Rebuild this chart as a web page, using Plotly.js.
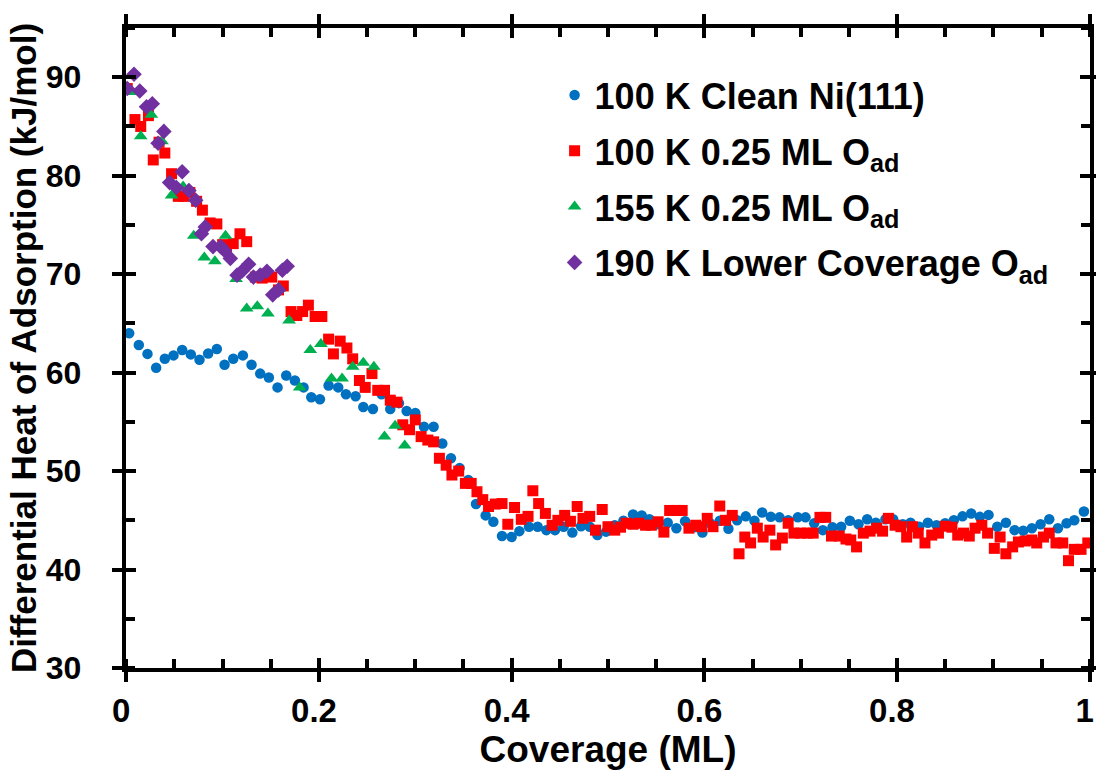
<!DOCTYPE html>
<html>
<head>
<meta charset="utf-8">
<script src="https://cdn.plot.ly/plotly-3.0.1.min.js"></script>
<style>html,body{margin:0;padding:0;background:#fff;}#chart{width:1096px;height:778px;}</style>
</head>
<body>
<div id="chart"></div>
<script>
// 100 K Clean Ni(111)
const cleanX = [0.003,0.013,0.022,0.031,0.040,0.049,0.058,0.067,0.076,0.085,0.094,0.102,0.111,0.121,0.130,0.139,0.148,0.157,0.166,0.175,0.184,0.192,0.201,0.210,0.220,0.228,0.238,0.246,0.256,0.265,0.274,0.283,0.291,0.300,0.309,0.319,0.328,0.337,0.346,0.355,0.363,0.373,0.381,0.390,0.400,0.408,0.418,0.427,0.436,0.445,0.454,0.463,0.472,0.481,0.489,0.498,0.507,0.516,0.526,0.535,0.543,0.552,0.562,0.571,0.580,0.589,0.598,0.606,0.616,0.625,0.634,0.643,0.652,0.660,0.669,0.678,0.687,0.697,0.705,0.714,0.723,0.733,0.742,0.751,0.760,0.769,0.778,0.788,0.796,0.806,0.814,0.823,0.832,0.841,0.850,0.859,0.868,0.877,0.886,0.895,0.904,0.913,0.922,0.931,0.940,0.949,0.958,0.967,0.976,0.984,0.994];
const cleanY = [64.0,62.8,61.9,60.5,61.4,61.75,62.3,61.85,61.3,61.95,62.4,60.8,61.4,61.75,60.8,59.9,59.5,58.5,59.7,59.2,58.5,57.5,57.3,58.7,58.5,57.8,57.6,56.5,56.3,57.8,56.3,56.9,56.1,55.9,54.5,54.5,52.8,51.3,50.3,49.1,46.65,45.5,44.85,43.4,43.3,43.9,44.35,44.35,44.0,44.0,44.35,43.75,44.4,44.35,43.5,43.85,44.5,44.95,45.6,45.5,45.1,44.6,44.75,44.2,44.9,44.3,43.75,44.7,44.95,44.15,45.0,45.4,44.95,45.8,45.35,45.3,45.0,45.3,45.3,44.7,44.0,44.3,44.35,44.95,44.6,45.1,44.75,45.1,45.1,44.6,44.75,44.35,44.75,44.5,44.7,45.0,45.4,45.7,45.35,45.55,44.35,44.75,44.0,43.95,44.2,44.6,45.1,44.2,44.7,45.0,45.9];

// 100 K 0.25 ML O_ad
const o100X = [0.001,0.009,0.015,0.023,0.028,0.034,0.040,0.047,0.054,0.060,0.066,0.073,0.079,0.087,0.094,0.100,0.104,0.111,0.118,0.125,0.134,0.141,0.145,0.151,0.158,0.163,0.171,0.177,0.183,0.189,0.196,0.203,0.210,0.215,0.222,0.229,0.235,0.242,0.248,0.255,0.261,0.268,0.274,0.281,0.287,0.294,0.300,0.306,0.313,0.319,0.325,0.332,0.338,0.345,0.352,0.358,0.364,0.370,0.376,0.383,0.390,0.396,0.403,0.410,0.417,0.422,0.428,0.435,0.442,0.448,0.455,0.461,0.468,0.474,0.481,0.487,0.494,0.500,0.507,0.513,0.519,0.526,0.532,0.539,0.545,0.552,0.558,0.564,0.571,0.577,0.584,0.591,0.597,0.603,0.609,0.616,0.622,0.629,0.636,0.642,0.648,0.655,0.661,0.668,0.674,0.681,0.687,0.693,0.700,0.707,0.713,0.720,0.726,0.732,0.740,0.747,0.752,0.758,0.765,0.772,0.779,0.785,0.791,0.798,0.804,0.810,0.816,0.822,0.829,0.836,0.843,0.850,0.857,0.863,0.869,0.875,0.881,0.888,0.894,0.901,0.907,0.913,0.920,0.926,0.933,0.940,0.945,0.952,0.958,0.965,0.972,0.978,0.984,0.991,0.998];
const o100Y = [88.85,85.7,85.0,86.1,81.6,83.4,82.3,80.2,77.9,77.9,78.3,77.4,76.5,75.2,75.1,73.0,72.6,73.1,74.1,73.3,69.7,69.6,70.0,69.7,68.4,68.8,66.2,65.8,66.2,66.85,65.7,65.7,63.4,61.9,63.2,62.5,61.4,59.2,58.5,59.9,58.2,58.2,57.2,57.0,54.7,54.2,55.2,53.5,53.15,52.97,51.3,50.6,49.6,50.0,48.75,48.75,47.9,47.1,46.4,46.65,46.7,44.6,46.3,45.1,45.4,48.0,46.7,45.7,44.5,45.0,45.5,44.9,46.4,45.2,45.4,44.0,46.1,44.35,44.0,44.3,44.7,44.6,44.7,44.5,44.5,44.85,43.8,46.0,46.0,46.0,44.2,44.5,44.35,45.2,44.35,46.45,45.0,45.5,41.6,43.3,42.7,44.2,43.3,44.0,42.5,43.2,44.7,43.7,43.7,43.7,43.7,45.3,45.3,43.4,43.4,43.1,43.0,42.3,43.7,43.9,44.2,43.9,45.2,44.5,44.35,43.3,44.35,43.7,42.7,43.5,43.7,44.4,44.3,43.5,43.7,43.4,44.2,44.5,43.7,42.15,43.3,41.6,42.3,42.8,42.9,43.0,42.7,43.3,43.7,42.7,42.7,40.9,42.05,42.05,42.7];

// 155 K 0.25 ML O_ad
const o155X = [0.004,0.015,0.026,0.037,0.047,0.059,0.070,0.081,0.092,0.103,0.114,0.125,0.136,0.147,0.159,0.169,0.180,0.191,0.202,0.213,0.224,0.235,0.246,0.257,0.268,0.279,0.289];
const o155Y = [88.5,84.0,86.2,83.5,78.0,78.9,73.9,71.7,71.3,73.9,69.5,66.5,66.75,66.0,68.55,65.3,58.5,62.3,62.9,59.4,59.4,60.6,61.0,60.6,53.5,54.6,52.6];

// 190 K Lower Coverage O_ad
const o190X = [0.001,0.008,0.014,0.021,0.027,0.033,0.039,0.045,0.052,0.058,0.065,0.072,0.078,0.082,0.090,0.098,0.102,0.108,0.115,0.120,0.127,0.132,0.139,0.146,0.152,0.158,0.162,0.167];
const o190Y = [88.85,90.3,88.6,87.0,87.3,83.3,84.5,79.3,78.8,80.4,78.5,77.5,74.1,74.8,72.8,72.8,72.4,71.6,69.9,70.3,71.0,69.7,69.9,70.3,67.9,68.4,70.4,70.8];

const seriesNames = ["100 K Clean Ni(111)", "100 K 0.25 ML O<sub>ad</sub>", "155 K 0.25 ML O<sub>ad</sub>", "190 K Lower Coverage O<sub>ad</sub>"];
const xTickVals = [0, 0.2, 0.4, 0.6, 0.8, 1];
const xTickText = ["0", "0.2", "0.4", "0.6", "0.8", "1"];

const FONT = "Arial, 'Liberation Sans', Helvetica, sans-serif";

const traces = [
  {x: cleanX, y: cleanY, name: seriesNames[0], mode: "markers", type: "scatter", legendgroup: "a",
   marker: {symbol: "circle", size: 10.5, color: "#0070C0"}},
  {x: o100X, y: o100Y, name: seriesNames[1], mode: "markers", type: "scatter", legendgroup: "b",
   marker: {symbol: "square", size: 11, color: "#FF0000"}},
  {x: o155X, y: o155Y, name: seriesNames[2], mode: "markers", type: "scatter", legendgroup: "c",
   marker: {symbol: "triangle-up", size: 12, color: "#00B050"}},
  {x: o190X, y: o190Y, name: seriesNames[3], mode: "markers", type: "scatter", legendgroup: "d",
   marker: {symbol: "diamond", size: 12, color: "#7030A0"}},
  {x: [], y: [], xaxis: "x2", yaxis: "y2", showlegend: false, hoverinfo: "skip", type: "scatter", mode: "markers"}
];

const axisCommon = {
  showline: true, linecolor: "#000", linewidth: 4, mirror: "ticks",
  ticks: "outside", ticklen: 10, tickwidth: 4, tickcolor: "#000",
  showgrid: false, zeroline: false
};

const layout = {
  width: 1096, height: 778,
  margin: {l: 126, r: 6, t: 28, b: 110},
  paper_bgcolor: "#fff", plot_bgcolor: "#fff",
  font: {family: FONT, color: "#000", size: 33, weight: "bold"},
  showlegend: true,
  legend: {x: 0.4446, y: 0.942, xanchor: "left", yanchor: "top", bgcolor: "rgba(0,0,0,0)",
    font: {family: FONT, size: 36, weight: "bold", color: "#000"}, tracegroupgap: 6, itemwidth: 30},
  xaxis: Object.assign({}, axisCommon, {
    range: [-0.0003, 1.0003], tickvals: xTickVals, ticktext: xTickText, ticklabeloverflow: "allow",
    ticklabelshift: -5,
    tickfont: {family: FONT, size: 33, weight: "bold"},
    minor: {ticks: "inside", dtick: 0.05, tick0: 0, ticklen: 9, tickwidth: 4, tickcolor: "#000"},
    title: {text: "Coverage (ML)", font: {family: FONT, size: 37, weight: "bold"}, standoff: 4}
  }),
  yaxis: Object.assign({}, axisCommon, {
    range: [30, 95], tick0: 30, dtick: 10, ticksuffix: "\u00a0\u00a0\u2009",
    tickfont: {family: FONT, size: 32, weight: "bold"},
    minor: {ticks: "inside", dtick: 5, tick0: 30, ticklen: 9, tickwidth: 4, tickcolor: "#000"},
    title: {text: "\u00a0\u00a0Differential Heat of Adsorption (kJ/mol)", font: {family: FONT, size: 35, weight: "bold"}, standoff: 0}
  }),
  xaxis2: {overlaying: "x", anchor: "y2", range: [-0.0003, 1.0003], tickvals: xTickVals, showticklabels: false,
    ticks: "inside", ticklen: 10, tickwidth: 4, tickcolor: "#000", mirror: "ticks",
    showline: false, showgrid: false, zeroline: false},
  yaxis2: {overlaying: "y", anchor: "x2", range: [30, 95], tick0: 30, dtick: 10, showticklabels: false,
    ticks: "inside", ticklen: 10, tickwidth: 4, tickcolor: "#000", mirror: "ticks",
    showline: false, showgrid: false, zeroline: false}
};

Plotly.newPlot("chart", traces, layout, {displayModeBar: false, staticPlot: true});
</script>
</body>
</html>
